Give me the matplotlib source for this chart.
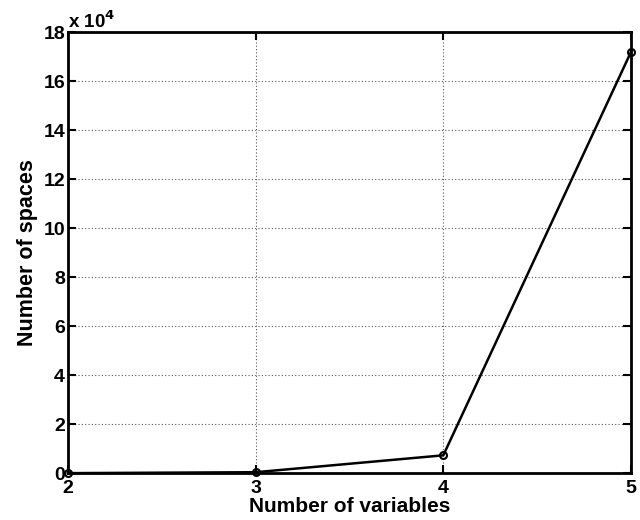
import matplotlib.pyplot as plt

plt.rcParams['font.family'] = ['Liberation Sans', 'DejaVu Sans']
plt.rcParams['font.weight'] = 'bold'

# data
num_vars = [2, 3, 4, 5]
num_spaces = [20, 400, 7300, 172000]
scale = 1e4
y_ticks = [0, 2, 4, 6, 8, 10, 12, 14, 16, 18]
x_ticks = [2, 3, 4, 5]

fig = plt.figure(figsize=(6.4, 5.2), dpi=100)
ax = fig.add_axes([0.106, 0.090, 0.880, 0.848])

ax.plot(num_vars, [v / scale for v in num_spaces], '-o', color='black', linewidth=1.8,
        markersize=5, markerfacecolor='none', markeredgewidth=1.5, clip_on=False, zorder=3)

ax.set_xlim(2, 5)
ax.set_ylim(0, 18)
ax.set_xticks(x_ticks)
ax.set_yticks(y_ticks)
ax.grid(True, linestyle=(0, (1, 2)), color='#555555', linewidth=0.8)
ax.tick_params(direction='in', top=True, right=True, length=6, width=1.5, labelsize=14, pad=2)
ax.tick_params(axis='x', pad=5)
for s in ax.spines.values():
    s.set_linewidth(2)

ax.set_xlabel('Number of variables', fontsize=15, fontweight='bold', labelpad=0)
ax.set_ylabel('Number of spaces', fontsize=15.5, fontweight='bold', labelpad=4)
ax.text(0.0, 1.0, r'x 10$^{\mathbf{4}}$', transform=ax.transAxes, fontsize=13.5, fontweight='bold',
        ha='left', va='bottom')

fig.savefig('out.png', dpi=100)
